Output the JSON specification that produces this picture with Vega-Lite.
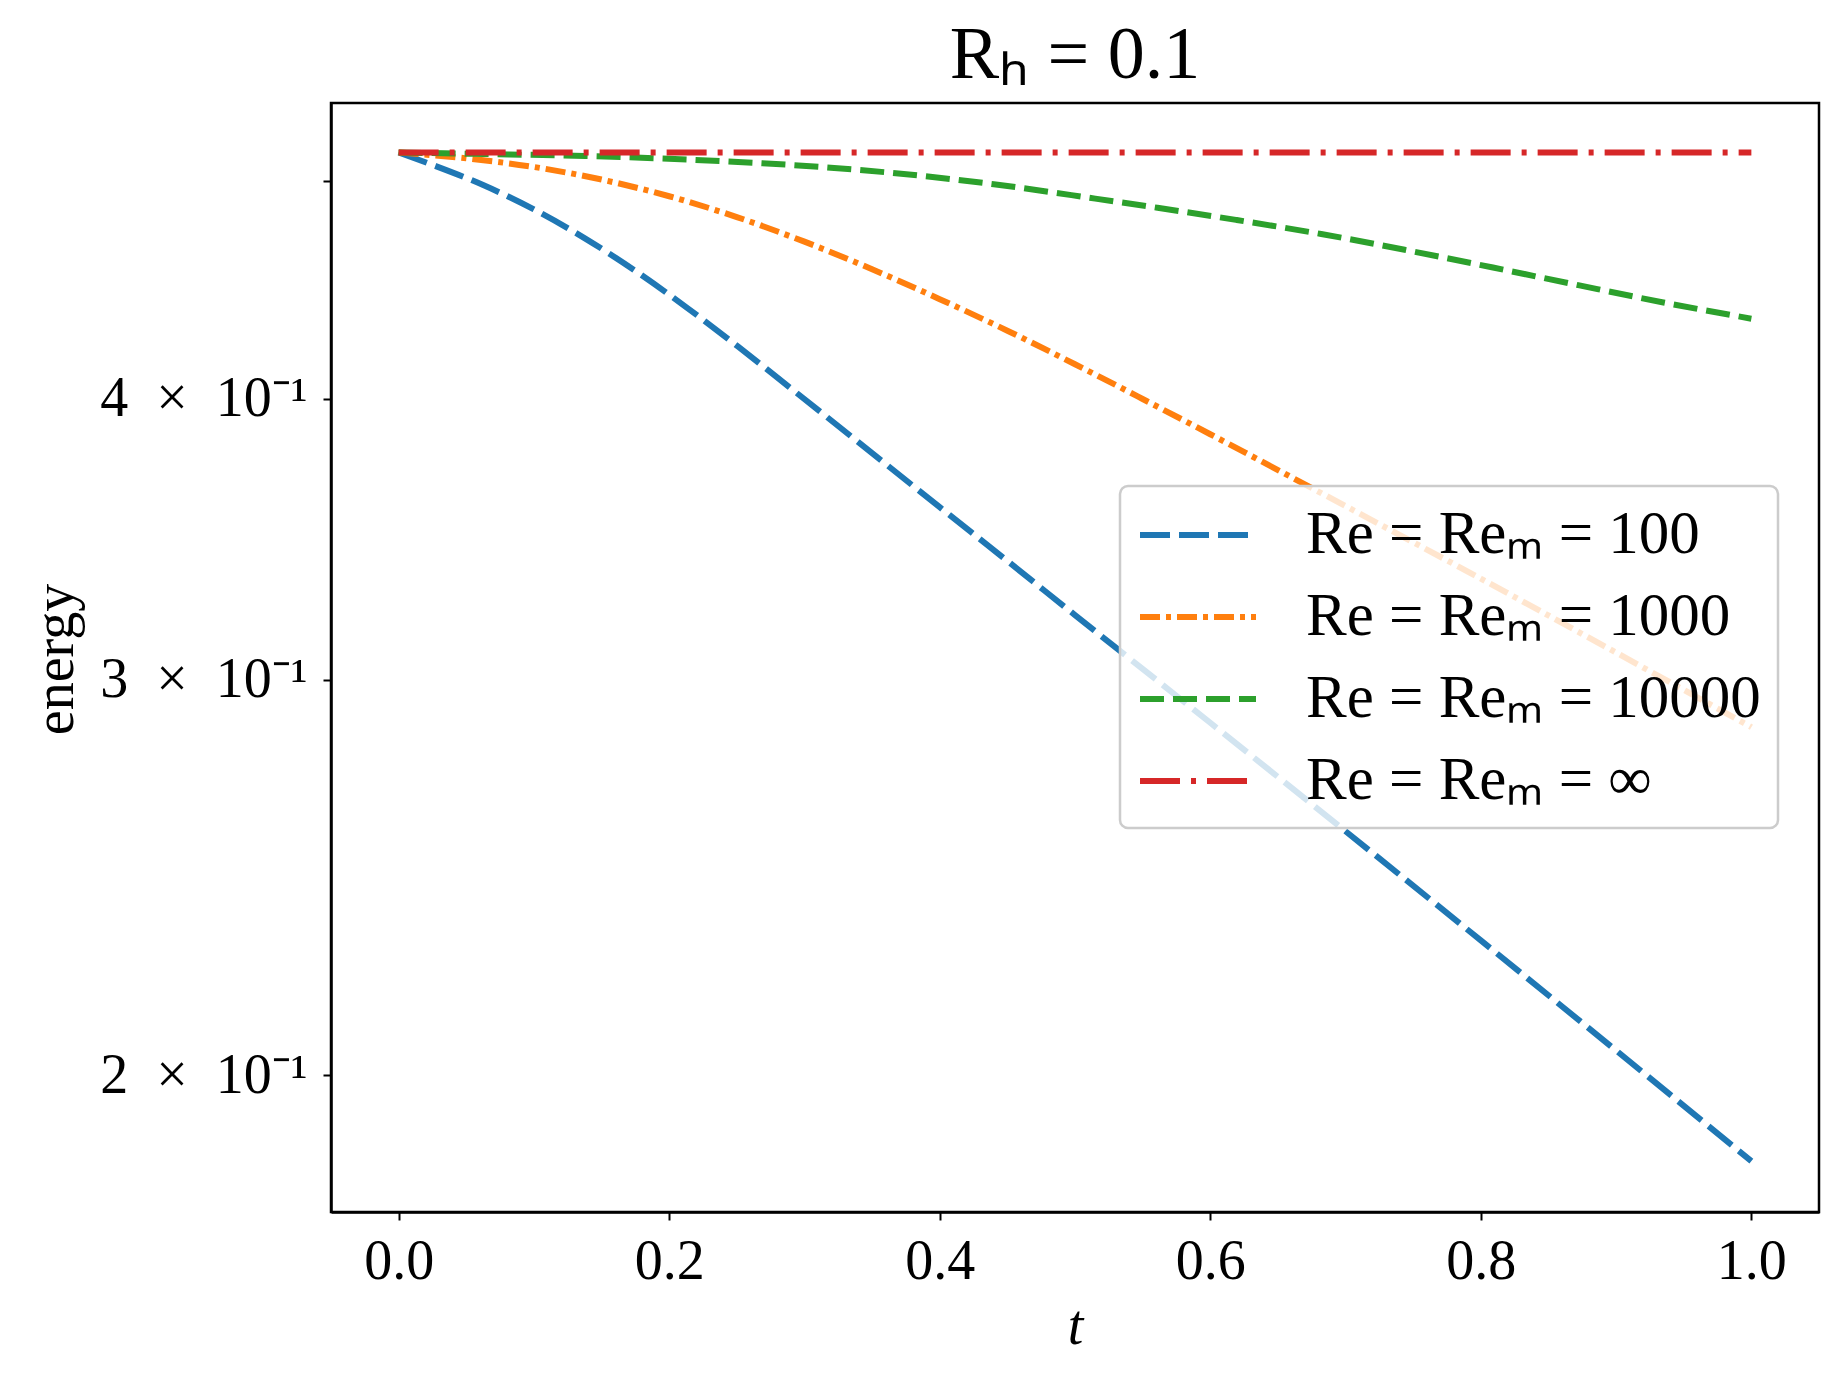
{
  "$schema": "https://vega.github.io/schema/vega-lite/v6.json",
  "width": 1488,
  "height": 1109,
  "autosize": {"type": "none"},
  "padding": {"left": 331, "top": 103, "right": 29, "bottom": 179},
  "background": "white",
  "title": {"text": "Rₕ = 0.1", "fontSize": 74, "font": "Liberation Serif", "fontWeight": "normal", "offset": 9, "color": "black"},
  "data": {"values": [
    {"series": "Re = Reₘ = 100", "t": 0.0, "energy": 0.515},
    {"series": "Re = Reₘ = 100", "t": 0.025, "energy": 0.5085},
    {"series": "Re = Reₘ = 100", "t": 0.0625, "energy": 0.4981},
    {"series": "Re = Reₘ = 100", "t": 0.1, "energy": 0.4858},
    {"series": "Re = Reₘ = 100", "t": 0.138, "energy": 0.4715},
    {"series": "Re = Reₘ = 100", "t": 0.176, "energy": 0.4557},
    {"series": "Re = Reₘ = 100", "t": 0.213, "energy": 0.4393},
    {"series": "Re = Reₘ = 100", "t": 0.251, "energy": 0.422},
    {"series": "Re = Reₘ = 100", "t": 0.289, "energy": 0.4048},
    {"series": "Re = Reₘ = 100", "t": 0.35, "energy": 0.3784},
    {"series": "Re = Reₘ = 100", "t": 0.4, "energy": 0.358},
    {"series": "Re = Reₘ = 100", "t": 0.45, "energy": 0.3388},
    {"series": "Re = Reₘ = 100", "t": 0.5, "energy": 0.3205},
    {"series": "Re = Reₘ = 100", "t": 0.6, "energy": 0.287},
    {"series": "Re = Reₘ = 100", "t": 0.7, "energy": 0.2568},
    {"series": "Re = Reₘ = 100", "t": 0.8, "energy": 0.2296},
    {"series": "Re = Reₘ = 100", "t": 0.9, "energy": 0.2051},
    {"series": "Re = Reₘ = 100", "t": 1.0, "energy": 0.1831},
    {"series": "Re = Reₘ = 1000", "t": 0.0, "energy": 0.515},
    {"series": "Re = Reₘ = 1000", "t": 0.05, "energy": 0.5119},
    {"series": "Re = Reₘ = 1000", "t": 0.1, "energy": 0.5074},
    {"series": "Re = Reₘ = 1000", "t": 0.15, "energy": 0.5009},
    {"series": "Re = Reₘ = 1000", "t": 0.2, "energy": 0.4924},
    {"series": "Re = Reₘ = 1000", "t": 0.25, "energy": 0.482},
    {"series": "Re = Reₘ = 1000", "t": 0.3, "energy": 0.47},
    {"series": "Re = Reₘ = 1000", "t": 0.35, "energy": 0.4569},
    {"series": "Re = Reₘ = 1000", "t": 0.4, "energy": 0.4431},
    {"series": "Re = Reₘ = 1000", "t": 0.45, "energy": 0.429},
    {"series": "Re = Reₘ = 1000", "t": 0.5, "energy": 0.4145},
    {"series": "Re = Reₘ = 1000", "t": 0.55, "energy": 0.4},
    {"series": "Re = Reₘ = 1000", "t": 0.6, "energy": 0.3858},
    {"series": "Re = Reₘ = 1000", "t": 0.7, "energy": 0.3584},
    {"series": "Re = Reₘ = 1000", "t": 0.8, "energy": 0.3327},
    {"series": "Re = Reₘ = 1000", "t": 0.9, "energy": 0.3084},
    {"series": "Re = Reₘ = 1000", "t": 1.0, "energy": 0.2857},
    {"series": "Re = Reₘ = 10000", "t": 0.0, "energy": 0.515},
    {"series": "Re = Reₘ = 10000", "t": 0.0625, "energy": 0.5142},
    {"series": "Re = Reₘ = 10000", "t": 0.138, "energy": 0.5132},
    {"series": "Re = Reₘ = 10000", "t": 0.213, "energy": 0.5113},
    {"series": "Re = Reₘ = 10000", "t": 0.289, "energy": 0.5085},
    {"series": "Re = Reₘ = 10000", "t": 0.364, "energy": 0.5044},
    {"series": "Re = Reₘ = 10000", "t": 0.44, "energy": 0.4985},
    {"series": "Re = Reₘ = 10000", "t": 0.515, "energy": 0.4912},
    {"series": "Re = Reₘ = 10000", "t": 0.561, "energy": 0.4866},
    {"series": "Re = Reₘ = 10000", "t": 0.619, "energy": 0.4806},
    {"series": "Re = Reₘ = 10000", "t": 0.682, "energy": 0.4737},
    {"series": "Re = Reₘ = 10000", "t": 0.746, "energy": 0.4658},
    {"series": "Re = Reₘ = 10000", "t": 0.809, "energy": 0.4577},
    {"series": "Re = Reₘ = 10000", "t": 0.872, "energy": 0.4495},
    {"series": "Re = Reₘ = 10000", "t": 0.935, "energy": 0.4416},
    {"series": "Re = Reₘ = 10000", "t": 1.0, "energy": 0.4343},
    {"series": "Re = Reₘ = ∞", "t": 0.0, "energy": 0.515},
    {"series": "Re = Reₘ = ∞", "t": 1.0, "energy": 0.515}
  ]},
  "mark": {"type": "line", "strokeWidth": 6, "clip": true, "interpolate": "monotone"},
  "encoding": {
    "x": {
      "field": "t", "type": "quantitative",
      "scale": {"domain": [-0.05, 1.05], "nice": false, "zero": false},
      "axis": {"values": [0, 0.2, 0.4, 0.6, 0.8, 1.0], "format": ".1f", "title": "t", "titleFontStyle": "italic", "labelPadding": 14, "titlePadding": 10}
    },
    "y": {
      "field": "energy", "type": "quantitative",
      "scale": {"type": "log", "domain": [0.1738, 0.5418], "nice": false},
      "axis": {"values": [0.2, 0.3, 0.4, 0.5], "labelExpr": "datum.value < 0.45 ? (round(datum.value * 10) + '\u2002×\u200210⁻¹') : ''", "labelLimit": 600, "title": "energy", "labelPadding": 16, "titleX": -259, "titleY": 556, "titleBaseline": "alphabetic", "titleAngle": -90}
    },
    "color": {
      "field": "series", "type": "nominal",
      "scale": {"domain": ["Re = Reₘ = 100", "Re = Reₘ = 1000", "Re = Reₘ = 10000", "Re = Reₘ = ∞"], "range": ["#1f77b4", "#ff7f0e", "#2ca02c", "#d62728"]},
      "legend": {"title": null}
    },
    "strokeDash": {
      "field": "series", "type": "nominal",
      "scale": {"domain": ["Re = Reₘ = 100", "Re = Reₘ = 1000", "Re = Reₘ = 10000", "Re = Reₘ = ∞"], "range": [[30, 9], [20, 6, 5, 6], [24, 9], [40, 11, 5, 11]]},
      "legend": {"title": null}
    }
  },
  "config": {
    "font": "Liberation Serif",
    "view": {"stroke": "black", "strokeWidth": 2.5},
    "axis": {
      "grid": false,
      "labelFont": "Liberation Serif", "labelFontSize": 56, "labelColor": "black",
      "titleFont": "Liberation Serif", "titleFontSize": 56, "titleFontWeight": "normal", "titleColor": "black",
      "tickSize": 8, "tickWidth": 2, "tickColor": "black",
      "domainColor": "black", "domainWidth": 2.5
    },
    "legend": {
      "orient": "none", "legendX": 789, "legendY": 383,
      "labelFont": "Liberation Serif", "labelFontSize": 61, "labelColor": "black", "labelLimit": 1000,
      "symbolType": "M-1,0H3", "symbolSize": 3364, "symbolStrokeWidth": 6,
      "labelOffset": 105, "rowPadding": 20, "padding": 17,
      "fillColor": "rgba(255,255,255,0.8)", "strokeColor": "#cccccc", "strokeWidth": 2.5, "cornerRadius": 8
    }
  }
}
